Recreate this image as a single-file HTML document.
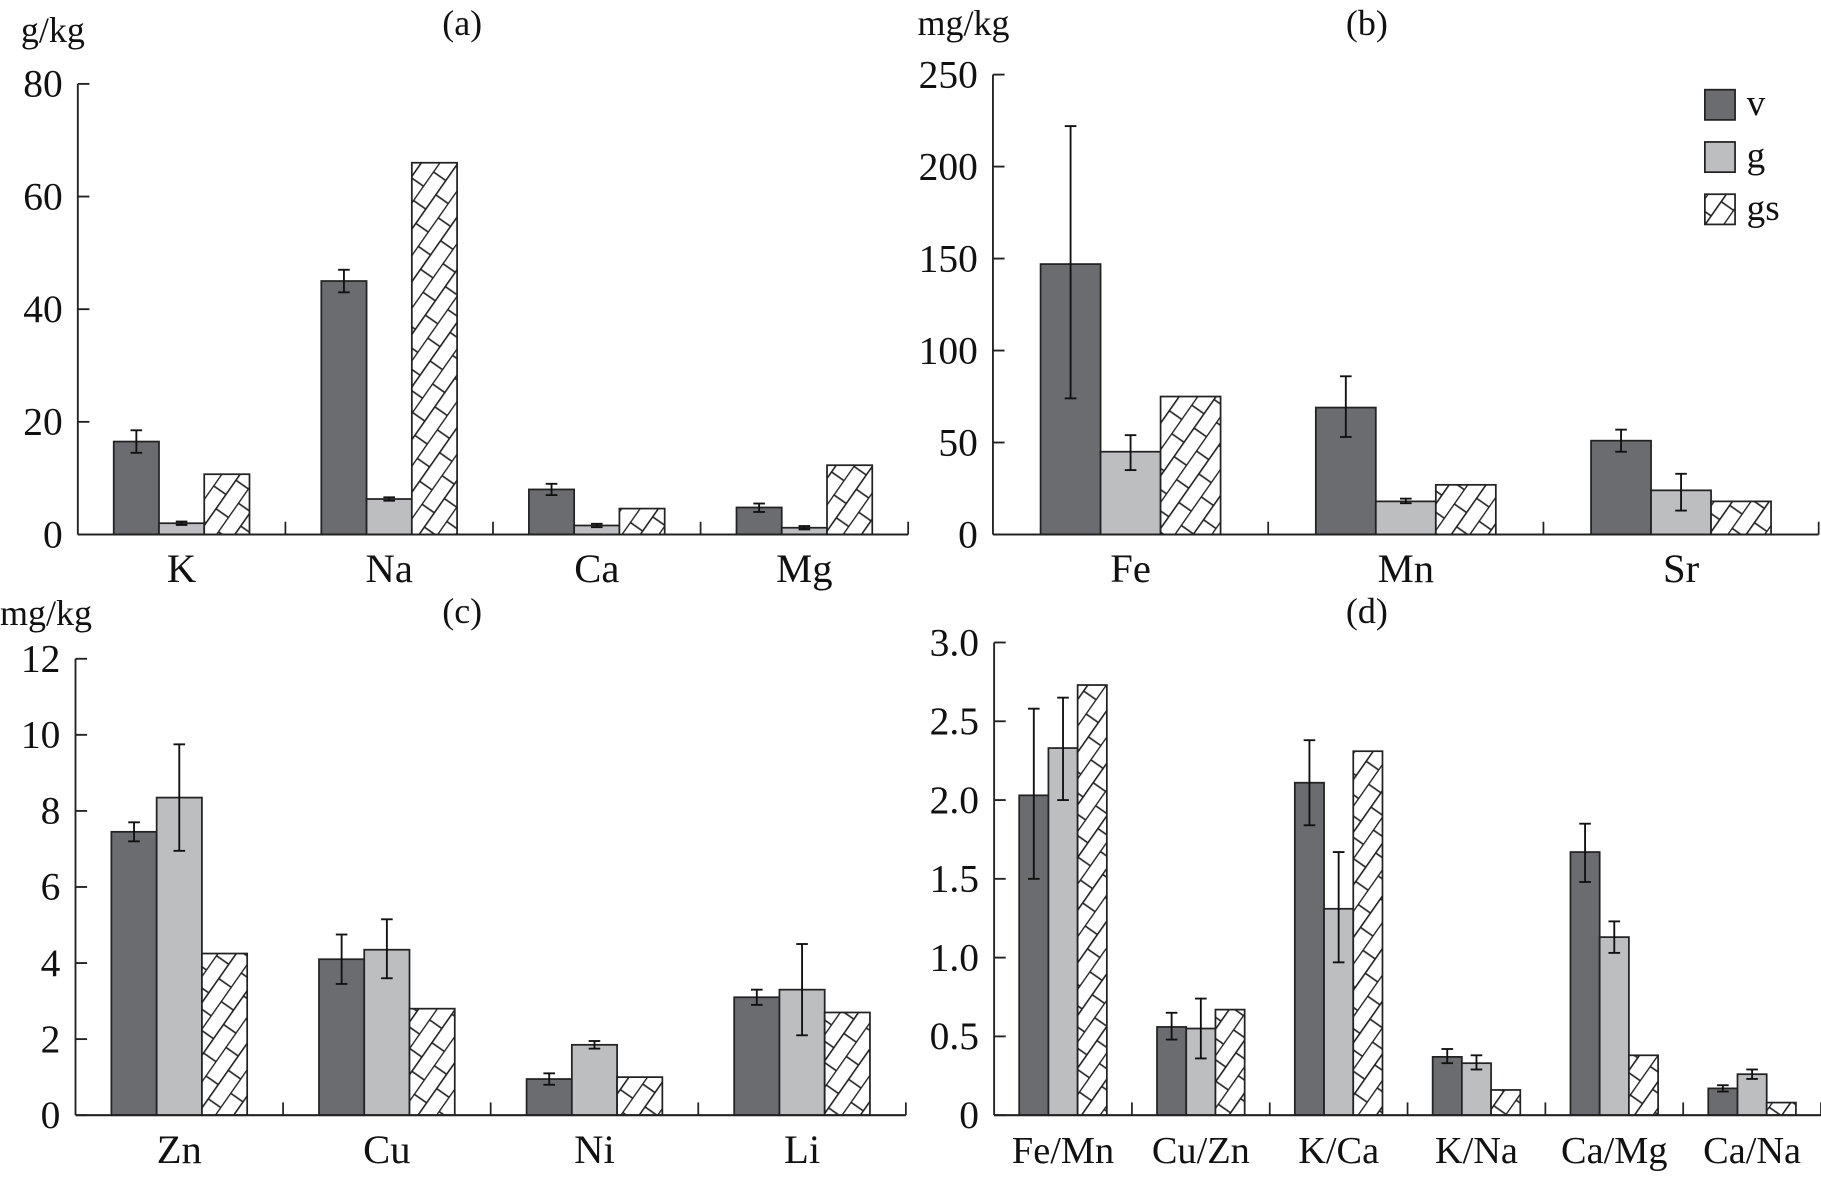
<!DOCTYPE html>
<html><head><meta charset="utf-8"><style>
html,body{margin:0;padding:0;background:#fff;}
svg{display:block;}
text{font-family:"Liberation Serif",serif;fill:#111;}
</style></head><body>
<svg id="chart" width="1821" height="1177" viewBox="0 0 1568 1013" xmlns="http://www.w3.org/2000/svg">
<defs>
<pattern id="brick" patternUnits="userSpaceOnUse" width="30" height="26" patternTransform="rotate(-55)">
<rect width="30" height="26" fill="#fff"/>
<line x1="0" y1="0.5" x2="30" y2="0.5" stroke="#222" stroke-width="1.4"/>
<line x1="0" y1="13.5" x2="30" y2="13.5" stroke="#222" stroke-width="1.4"/>
<line x1="3" y1="0" x2="3" y2="13" stroke="#222" stroke-width="1.4"/>
<line x1="18" y1="13" x2="18" y2="26" stroke="#222" stroke-width="1.4"/>
</pattern>
</defs>
<g id="root"></g>
</svg>
<script>
// Panel (a) g/kg
const catsA = ["K","Na","Ca","Mg"];
const vA = [16.5,45,8,4.8];
const vAlo = [14.5,43,7,4];
const vAhi = [18.5,47,9,5.5];
const gA = [2,6.3,1.6,1.2];
const gAlo = [1.7,6,1.3,0.9];
const gAhi = [2.3,6.6,1.9,1.5];
const gsA = [10.7,66,4.6,12.3];
const ticksA = [0,20,40,60,80];
// Panel (b) mg/kg
const catsB = ["Fe","Mn","Sr"];
const vB = [147,69,51];
const vBlo = [74,53,45];
const vBhi = [222,86,57];
const gB = [45,18,24];
const gBlo = [35,17,13];
const gBhi = [54,19.5,33];
const gsB = [75,27,18];
const ticksB = [0,50,100,150,200,250];
// Panel (c) mg/kg
const catsC = ["Zn","Cu","Ni","Li"];
const vC = [7.45,4.1,0.95,3.1];
const vClo = [7.2,3.45,0.8,2.9];
const vChi = [7.7,4.75,1.1,3.3];
const gC = [8.35,4.35,1.85,3.3];
const gClo = [6.95,3.6,1.75,2.1];
const gChi = [9.75,5.15,1.95,4.5];
const gsC = [4.25,2.8,1.0,2.7];
const ticksC = [0,2,4,6,8,10,12];
// Panel (d) ratios
const catsD = ["Fe/Mn","Cu/Zn","K/Ca","K/Na","Ca/Mg","Ca/Na"];
const vD = [2.03,0.56,2.11,0.37,1.67,0.17];
const vDlo = [1.5,0.48,1.84,0.33,1.48,0.15];
const vDhi = [2.58,0.65,2.38,0.42,1.85,0.19];
const gD = [2.33,0.55,1.31,0.33,1.13,0.26];
const gDlo = [2.0,0.36,0.97,0.29,1.03,0.23];
const gDhi = [2.65,0.74,1.67,0.38,1.23,0.29];
const gsD = [2.73,0.67,2.31,0.16,0.38,0.08];
const ticksD = ["0","0.5","1.0","1.5","2.0","2.5","3.0"];

const NS="http://www.w3.org/2000/svg";
const root=document.getElementById('root');
function mk(tag,attrs,parent){const e=document.createElementNS(NS,tag);for(const k in attrs)e.setAttribute(k,attrs[k]);(parent||root).appendChild(e);return e;}

function panel(p){
  const g=mk('g',{});
  
  
  const maxV=p.max;
  const y=v=>p.y0-(v/maxV)*(p.y0-p.ytop);
  const catW=(p.xEnd-p.x0)/p.cats.length;
  const x=i=>p.x0+catW*i;
  const bw=catW*p.bwFrac;
  const ya=mk('line',{x1:p.x0,y1:p.y0,x2:p.x0,y2:p.ytop,stroke:'#222','stroke-width':1.6},g);
  
  
  p.ticks.forEach(t=>{
    const v=parseFloat(t);
    mk('line',{x1:p.x0,y1:y(v),x2:p.x0+10,y2:y(v),stroke:'#222','stroke-width':1.6},g);
    const tl=mk('text',{x:p.x0-13,y:y(v)+11,'text-anchor':'end','font-size':34},g);
    tl.textContent=t;
    
    
  });
  const series=[
    {vals:p.v,lo:p.vlo,hi:p.vhi,fill:'#6b6c70',name:'v'},
    {vals:p.g,lo:p.glo,hi:p.ghi,fill:'#bdbec0',name:'g'},
    {vals:p.gs,fill:'url(#brick)',name:'gs'}];
  p.cats.forEach((c,i)=>{
    const cx=x(i)+catW/2;
    series.forEach((s,j)=>{
      const bx=cx-1.5*bw+j*bw;
      const r=mk('rect',{x:bx,y:y(s.vals[i]),width:bw,height:p.y0-y(s.vals[i]),fill:s.fill,stroke:'#222','stroke-width':1.5},g);
      
      
      if(s.lo){
        const ex=bx+bw/2;
        const eb=mk('g',{stroke:'#111','stroke-width':1.6},g);
        
        
        mk('line',{x1:ex,y1:y(s.lo[i]),x2:ex,y2:y(s.hi[i])},eb);
        mk('line',{x1:ex-5,y1:y(s.lo[i]),x2:ex+5,y2:y(s.lo[i])},eb);
        mk('line',{x1:ex-5,y1:y(s.hi[i]),x2:ex+5,y2:y(s.hi[i])},eb);
      }
    });
    mk('line',{x1:x(i+1),y1:p.y0,x2:x(i+1),y2:p.y0-11,stroke:'#222','stroke-width':1.5},g);
    const cl=mk('text',{x:cx,y:p.y0+41,'text-anchor':'middle','font-size':p.catFont||35},g);
    cl.textContent=c;
    
    
  });
  const xa=mk('line',{x1:p.x0,y1:p.y0,x2:p.xEnd,y2:p.y0,stroke:'#222','stroke-width':1.8},g);
  
  
  const tt=mk('text',{x:p.tx,y:p.ty,'text-anchor':'middle','font-size':31},g);
  tt.textContent=p.title;
  
  
  if(p.unit){
    const u=mk('text',{x:p.ux,y:p.uy,'font-size':31},g);
    u.textContent=p.unit;
    
    
  }
}

panel({id:'a',cats:catsA,v:vA,vlo:vAlo,vhi:vAhi,g:gA,glo:gAlo,ghi:gAhi,gs:gsA,ticks:ticksA.map(String),max:80,x0:67,xEnd:782,y0:460,ytop:72,bwFrac:0.218,title:'(a)',tx:398,ty:30,unit:'g/kg',ux:18,uy:36});
panel({id:'b',cats:catsB,v:vB,vlo:vBlo,vhi:vBhi,g:gB,glo:gBlo,ghi:gBhi,gs:gsB,ticks:ticksB.map(String),max:250,x0:855,xEnd:1566,y0:460,ytop:64,bwFrac:0.218,title:'(b)',tx:1177,ty:30,unit:'mg/kg',ux:790,uy:30});
panel({id:'c',cats:catsC,v:vC,vlo:vClo,vhi:vChi,g:gC,glo:gClo,ghi:gChi,gs:gsC,ticks:ticksC.map(String),max:12,x0:65,xEnd:780,y0:960,ytop:567,bwFrac:0.218,title:'(c)',tx:398,ty:536,unit:'mg/kg',ux:0,uy:538});
panel({id:'d',cats:catsD,v:vD,vlo:vDlo,vhi:vDhi,g:gD,glo:gDlo,ghi:gDhi,gs:gsD,ticks:ticksD,max:3,x0:856,xEnd:1568,y0:960,ytop:553,bwFrac:0.212,title:'(d)',tx:1177,ty:536,catFont:33});

const leg=mk('g',{});


const legNames=['v','g','gs'];
const legFills=['#6b6c70','#bdbec0','url(#brick)'];
legNames.forEach((n,i)=>{
  const yy=77+i*45;
  const r=mk('rect',{x:1468,y:yy,width:26,height:26,fill:legFills[i],stroke:'#222','stroke-width':1.5},leg);
  
  
  const t=mk('text',{x:1504,y:yy+22,'font-size':32},leg);
  t.textContent=n;
  
  
});
</script>
</body></html>
